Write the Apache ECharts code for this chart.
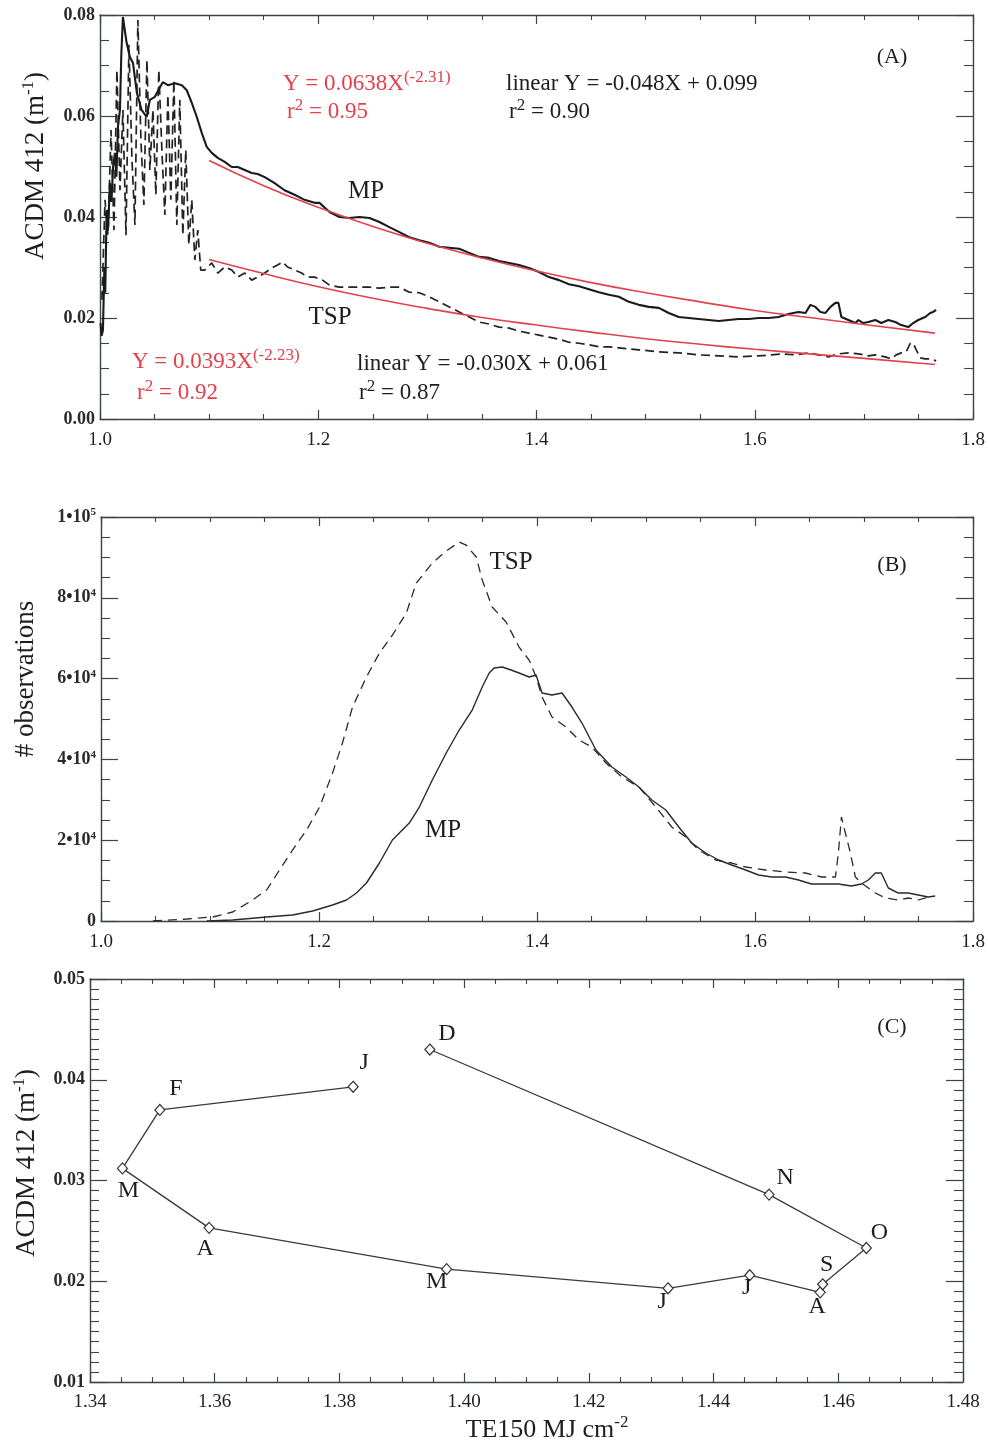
<!DOCTYPE html>
<html><head><meta charset="utf-8">
<script src="https://cdn.jsdelivr.net/npm/echarts@6/dist/echarts.min.js"></script>
<style>html,body{margin:0;padding:0;background:#fff}#c{width:988px;height:1446px}</style>
</head><body><div id="c"></div>
<script>
// ---------- DATA ----------
// Panel A: ACDM 412 vs TE150 (x, y)
const mpA = [[1.0005,0.0190],[1.0015,0.0165],[1.0027,0.0176],[1.0040,0.0300],[1.0048,0.0250],[1.0061,0.0414],[1.0075,0.0380],[1.0091,0.0467],[1.0105,0.0430],[1.0120,0.0500],[1.0137,0.0527],[1.0150,0.0480],[1.0165,0.0580],[1.0183,0.0612],[1.0195,0.0720],[1.0210,0.0796],[1.0244,0.0745],[1.0274,0.0717],[1.0302,0.0705],[1.0338,0.0646],[1.0381,0.0612],[1.0427,0.0598],[1.0457,0.0632],[1.0503,0.0638],[1.0549,0.0657],[1.0576,0.0667],[1.0622,0.0661],[1.0686,0.0665],[1.0750,0.0661],[1.0795,0.0651],[1.0841,0.0626],[1.0887,0.0598],[1.0933,0.0566],[1.0978,0.0539],[1.1024,0.0527],[1.1079,0.0517],[1.1143,0.0509],[1.1207,0.0499],[1.1262,0.0499],[1.1326,0.0493],[1.1390,0.0487],[1.1445,0.0485],[1.1509,0.0479],[1.1600,0.0467],[1.1691,0.0453],[1.1783,0.0444],[1.1874,0.0434],[1.1966,0.0428],[1.2011,0.0428],[1.2103,0.0410],[1.2194,0.0400],[1.2286,0.0398],[1.2377,0.0400],[1.2469,0.0398],[1.2560,0.0390],[1.2651,0.0380],[1.2743,0.0370],[1.2834,0.0360],[1.2926,0.0354],[1.3017,0.0349],[1.3109,0.0341],[1.3200,0.0339],[1.3291,0.0337],[1.3383,0.0329],[1.3474,0.0321],[1.3566,0.0319],[1.3657,0.0313],[1.3749,0.0309],[1.3840,0.0305],[1.3931,0.0299],[1.4023,0.0291],[1.4114,0.0281],[1.4206,0.0275],[1.4297,0.0267],[1.4389,0.0263],[1.4480,0.0257],[1.4571,0.0251],[1.4663,0.0246],[1.4754,0.0242],[1.4846,0.0232],[1.4937,0.0226],[1.5029,0.0222],[1.5120,0.0220],[1.5211,0.0210],[1.5303,0.0202],[1.5394,0.0200],[1.5486,0.0198],[1.5577,0.0196],[1.5669,0.0194],[1.5760,0.0196],[1.5851,0.0198],[1.5943,0.0198],[1.6034,0.0200],[1.6126,0.0200],[1.6217,0.0202],[1.6309,0.0208],[1.6400,0.0212],[1.6464,0.0210],[1.6509,0.0226],[1.6555,0.0222],[1.6601,0.0212],[1.6647,0.0210],[1.6693,0.0222],[1.6738,0.0230],[1.6766,0.0230],[1.6793,0.0202],[1.6857,0.0196],[1.6921,0.0190],[1.6949,0.0196],[1.6994,0.0190],[1.7040,0.0192],[1.7104,0.0196],[1.7159,0.0190],[1.7223,0.0196],[1.7287,0.0192],[1.7341,0.0186],[1.7406,0.0182],[1.7451,0.0190],[1.7497,0.0196],[1.7561,0.0202],[1.7607,0.0210],[1.7634,0.0212],[1.7661,0.0216]];
const tspA = [[1.0018,0.0236],[1.0046,0.0434],[1.0073,0.0364],[1.0101,0.0572],[1.0128,0.0374],[1.0155,0.0691],[1.0183,0.0453],[1.0210,0.0612],[1.0238,0.0364],[1.0265,0.0741],[1.0293,0.0513],[1.0320,0.0384],[1.0347,0.0790],[1.0375,0.0552],[1.0402,0.0424],[1.0430,0.0711],[1.0457,0.0493],[1.0485,0.0612],[1.0512,0.0444],[1.0539,0.0691],[1.0567,0.0533],[1.0594,0.0404],[1.0622,0.0642],[1.0649,0.0434],[1.0677,0.0671],[1.0704,0.0384],[1.0731,0.0632],[1.0759,0.0364],[1.0786,0.0533],[1.0814,0.0345],[1.0841,0.0434],[1.0869,0.0315],[1.0896,0.0374],[1.0923,0.0295],[1.0960,0.0295],[1.1024,0.0309],[1.1079,0.0289],[1.1143,0.0301],[1.1207,0.0295],[1.1262,0.0281],[1.1326,0.0289],[1.1390,0.0275],[1.1445,0.0281],[1.1509,0.0289],[1.1573,0.0299],[1.1627,0.0305],[1.1673,0.0311],[1.1719,0.0301],[1.1783,0.0295],[1.1847,0.0289],[1.1902,0.0281],[1.1966,0.0281],[1.2039,0.0275],[1.2103,0.0265],[1.2194,0.0261],[1.2286,0.0261],[1.2377,0.0261],[1.2469,0.0261],[1.2560,0.0259],[1.2651,0.0261],[1.2743,0.0261],[1.2834,0.0251],[1.2926,0.0250],[1.3017,0.0242],[1.3109,0.0232],[1.3200,0.0222],[1.3291,0.0212],[1.3383,0.0202],[1.3474,0.0192],[1.3566,0.0188],[1.3657,0.0182],[1.3749,0.0180],[1.3840,0.0174],[1.3931,0.0170],[1.4023,0.0166],[1.4114,0.0162],[1.4206,0.0158],[1.4297,0.0152],[1.4389,0.0150],[1.4480,0.0147],[1.4571,0.0143],[1.4663,0.0143],[1.4754,0.0141],[1.4846,0.0139],[1.4937,0.0137],[1.5120,0.0133],[1.5303,0.0131],[1.5486,0.0127],[1.5669,0.0125],[1.5851,0.0123],[1.6034,0.0125],[1.6153,0.0127],[1.6245,0.0129],[1.6373,0.0127],[1.6491,0.0131],[1.6583,0.0127],[1.6674,0.0123],[1.6766,0.0129],[1.6857,0.0131],[1.6949,0.0129],[1.7040,0.0125],[1.7104,0.0127],[1.7195,0.0123],[1.7250,0.0119],[1.7296,0.0127],[1.7341,0.0131],[1.7387,0.0133],[1.7424,0.0150],[1.7451,0.0150],[1.7479,0.0137],[1.7515,0.0121],[1.7561,0.0119],[1.7607,0.0119],[1.7661,0.0115]];
const fitMpA = [[1.10,0.0512],[1.15,0.0462],[1.20,0.0419],[1.25,0.0381],[1.30,0.0348],[1.35,0.0319],[1.40,0.0293],[1.45,0.0270],[1.50,0.0250],[1.55,0.0232],[1.60,0.0215],[1.65,0.0201],[1.70,0.0187],[1.765,0.0170]];
const fitTspA = [[1.10,0.0316],[1.15,0.0288],[1.20,0.0262],[1.25,0.0239],[1.30,0.0219],[1.35,0.0201],[1.40,0.0186],[1.45,0.0172],[1.50,0.0159],[1.55,0.0148],[1.60,0.0138],[1.65,0.0129],[1.70,0.0120],[1.765,0.0108]];

// Panel B: # observations vs TE150
const mpB = [[1.097,0],[1.1208,248],[1.1519,990],[1.1757,1485],[1.1941,2475],[1.2124,3960],[1.2252,5198],[1.2343,6930],[1.2435,9405],[1.2554,14355],[1.2673,20048],[1.2828,24255],[1.2920,28215],[1.3039,34898],[1.3167,41580],[1.3286,47273],[1.3405,52223],[1.3497,57915],[1.3561,61380],[1.3606,62618],[1.3680,62865],[1.3762,62123],[1.3835,61380],[1.3927,60390],[1.3991,60885],[1.4046,56430],[1.4137,55935],[1.4229,56430],[1.4320,52965],[1.4412,49005],[1.4540,42323],[1.4686,38115],[1.4815,35640],[1.4934,33165],[1.5053,29948],[1.5181,27473],[1.5300,23265],[1.5419,19305],[1.5547,16830],[1.5666,15098],[1.5785,13860],[1.5913,12623],[1.6032,11385],[1.6151,10890],[1.6279,10890],[1.6398,10148],[1.6517,9158],[1.6645,9158],[1.6764,9158],[1.6883,8663],[1.6975,9158],[1.7039,10148],[1.7103,11880],[1.7158,11880],[1.7222,8168],[1.7314,6930],[1.7405,6930],[1.7497,6435],[1.7588,5940],[1.7652,6188]];
const tspB = [[1.0476,0],[1.0787,495],[1.1025,990],[1.1208,2228],[1.1391,5198],[1.1519,7673],[1.1638,12623],[1.1757,17573],[1.1886,22523],[1.2005,28215],[1.2124,36630],[1.2215,44055],[1.2307,52965],[1.2435,60390],[1.2554,66330],[1.2673,70785],[1.2801,76230],[1.2892,83655],[1.3039,88605],[1.3167,91575],[1.3286,93803],[1.3350,93060],[1.3442,90090],[1.3497,84398],[1.3588,77715],[1.3716,74003],[1.3835,67815],[1.3927,64598],[1.3991,60390],[1.4046,55440],[1.4137,50490],[1.4265,48015],[1.4384,44798],[1.4503,43065],[1.4632,39105],[1.4778,35640],[1.4934,33165],[1.5089,28215],[1.5236,23265],[1.5364,20790],[1.5483,17573],[1.5638,15098],[1.5785,14355],[1.5913,13365],[1.6096,12623],[1.6279,12128],[1.6462,11880],[1.6609,10890],[1.6737,10890],[1.6764,16830],[1.6792,25740],[1.6828,21780],[1.6874,16830],[1.6920,10890],[1.6975,9405],[1.7039,8168],[1.7103,6930],[1.7194,5693],[1.7314,5198],[1.7405,5693],[1.7497,5198],[1.7588,5940]];

// Panel C: monthly means
const months = ['J','F','M','A','M','J','J','A','S','O','N','D'];
const te150 = [1.3822,1.3512,1.3452,1.3591,1.3972,1.4327,1.4458,1.4571,1.4575,1.4645,1.4489,1.3945];
const acdmC = [0.0393,0.0370,0.0312,0.0253,0.0212,0.0193,0.0206,0.0189,0.0197,0.0233,0.0286,0.0430];

// tick label formats
const fmt1 = v => v.toFixed(1);
const fmt2 = v => v.toFixed(2);
const fmtObs = v => v === 0 ? '0' : (v >= 100000 ? '{a|1\u202210}{s|5}' : '{a|' + Math.round(v / 10000) + '\u202210}{s|4}');

// ---------- LAYOUT / STYLE ----------
const FONT = '"Liberation Serif", "DejaVu Serif", serif';
const AX = '#3b4545';
const TXT = '#1e1e1e';
const RED = '#e2414a';
const labelOffsetsC = [[11,-24],[16,-21],[6,22],[-4,21],[-10,13],[-6,13],[-3,12],[-3,14],[4,-20],[13,-15],[16,-17],[17,-16]];

function axisBase(grid, min, max, interval, majorLen, minorLen, minorSplit) {
  return {
    type: 'value', gridIndex: grid, min, max, interval, scale: false,
    splitLine: {show: false}, minorSplitLine: {show: false},
    axisLine: {show: true, onZero: false, lineStyle: {color: AX, width: 1.4}},
    axisTick: {show: true, inside: true, length: majorLen, lineStyle: {color: AX, width: 1.2}},
    minorTick: {show: true, splitNumber: minorSplit, length: minorLen, lineStyle: {color: AX, width: 1.1}}
  };
}
function xPair(grid, min, max, interval, fmt, margin) {
  return [
    Object.assign(axisBase(grid, min, max, interval, 9, 5, 4), {position: 'bottom',
      axisLabel: {show: true, margin, formatter: fmt, fontFamily: FONT, fontSize: 19, color: TXT}}),
    Object.assign(axisBase(grid, min, max, interval, 9, 5, 4), {position: 'top', axisLabel: {show: false}})
  ];
}
function yPair(grid, min, max, interval, fmt, minorSplit, labelExtra) {
  return [
    Object.assign(axisBase(grid, min, max, interval, 17, 9, minorSplit), {position: 'left',
      axisLabel: Object.assign({show: true, margin: 5, formatter: fmt, fontFamily: FONT, fontSize: 18, fontWeight: 'bold', color: '#2a2a2a'}, labelExtra || {})}),
    Object.assign(axisBase(grid, min, max, interval, 17, 9, minorSplit), {position: 'right', axisLabel: {show: false}})
  ];
}

function txt(x, y, text, size, color, align, rich, rotation) {
  const el = {type: 'text', x, y, silent: true, style: {
    text, fill: color, font: size + 'px ' + FONT, fontSize: size, fontFamily: FONT,
    align: align || 'left', verticalAlign: 'middle'}};
  if (rich) el.style.rich = rich;
  if (rotation) el.rotation = rotation;
  return el;
}
function supRich(size, supSize, color, lh) {
  return {
    m: {fontSize: size, fontFamily: FONT, fill: color, lineHeight: lh},
    s: {fontSize: supSize, fontFamily: FONT, fill: color, verticalAlign: 'top', lineHeight: supSize}
  };
}

const chart = echarts.init(document.getElementById('c'), null, {renderer: 'canvas'});
const xs = [].concat(xPair(0, 1.0, 1.8, 0.2, fmt1, 12), xPair(1, 1.0, 1.8, 0.2, fmt1, 12), xPair(2, 1.34, 1.48, 0.02, fmt2, 11));
const ys = [].concat(
  yPair(0, 0, 0.08, 0.02, fmt2, 4),
  yPair(1, 0, 100000, 20000, fmtObs, 4, {rich: {
    a: {fontSize: 18, fontFamily: FONT, fontWeight: 'bold', color: '#2a2a2a', lineHeight: 20},
    s: {fontSize: 11, fontFamily: FONT, fontWeight: 'bold', color: '#2a2a2a', verticalAlign: 'top', lineHeight: 11}}}),
  yPair(2, 0.01, 0.05, 0.01, fmt2, 10)
);

const eqSize = 23, eqSup = 17, eqLH = 30;
const option = {
  animation: false,
  backgroundColor: '#ffffff',
  grid: [
    {left: 100, top: 15, width: 875, height: 404},
    {left: 101, top: 517, width: 874, height: 404},
    {left: 90, top: 979, width: 873, height: 403}
  ],
  xAxis: xs,
  yAxis: ys,
  series: [
    {type: 'line', xAxisIndex: 0, yAxisIndex: 0, data: tspA, showSymbol: false, silent: true,
      lineStyle: {color: '#222', width: 1.7, type: [9, 5]}},
    {type: 'line', xAxisIndex: 0, yAxisIndex: 0, data: mpA, showSymbol: false, silent: true,
      lineStyle: {color: '#1a1a1a', width: 2.1}},
    {type: 'line', xAxisIndex: 0, yAxisIndex: 0, data: fitMpA, showSymbol: false, smooth: true, silent: true,
      lineStyle: {color: RED, width: 1.6}},
    {type: 'line', xAxisIndex: 0, yAxisIndex: 0, data: fitTspA, showSymbol: false, smooth: true, silent: true,
      lineStyle: {color: RED, width: 1.6}},
    {type: 'line', xAxisIndex: 2, yAxisIndex: 2, data: tspB, showSymbol: false, silent: true,
      lineStyle: {color: '#2a2a2a', width: 1.3, type: [9, 6]}},
    {type: 'line', xAxisIndex: 2, yAxisIndex: 2, data: mpB, showSymbol: false, silent: true,
      lineStyle: {color: '#2a2a2a', width: 1.4}},
    {type: 'line', xAxisIndex: 4, yAxisIndex: 4, silent: true,
      data: months.map((m, i) => ({name: m, value: [te150[i], acdmC[i]],
        label: {offset: labelOffsetsC[i]}})),
      symbol: 'diamond', symbolSize: [10, 11], showSymbol: true,
      itemStyle: {color: '#ffffff', borderColor: '#333', borderWidth: 1.2},
      lineStyle: {color: '#3a3a3a', width: 1.3},
      label: {show: true, position: 'inside', formatter: '{b}', fontFamily: FONT, fontSize: 24, color: TXT}}
  ],
  graphic: [
    // axis titles
    txt(36, 166, '{m|ACDM 412 (m}{s|-1}{m|)}', 27, TXT, 'center', supRich(27, 17, TXT, 32), Math.PI / 2),
    txt(26, 679, '# observations', 27, TXT, 'center', null, Math.PI / 2),
    txt(27, 1163, '{m|ACDM 412 (m}{s|-1}{m|)}', 27, TXT, 'center', supRich(27, 17, TXT, 32), Math.PI / 2),
    txt(547, 1430, '{m|TE150 MJ cm}{s|-2}', 26, TXT, 'center', supRich(26, 17, TXT, 32)),
    // panel letters
    txt(892, 57, '(A)', 22, TXT, 'center'),
    txt(892, 565, '(B)', 22, TXT, 'center'),
    txt(892, 1027, '(C)', 22, TXT, 'center'),
    // panel A annotations
    txt(283, 84, '{m|Y = 0.0638X}{s|(-2.31)}', eqSize, RED, 'left', supRich(eqSize, eqSup, RED, eqLH)),
    txt(287, 112, '{m|r}{s|2}{m| = 0.95}', eqSize, RED, 'left', supRich(eqSize, eqSup, RED, eqLH)),
    txt(506, 84, 'linear Y = -0.048X + 0.099', eqSize, TXT, 'left'),
    txt(509, 112, '{m|r}{s|2}{m| = 0.90}', eqSize, TXT, 'left', supRich(eqSize, eqSup, TXT, eqLH)),
    txt(132, 362, '{m|Y = 0.0393X}{s|(-2.23)}', eqSize, RED, 'left', supRich(eqSize, eqSup, RED, eqLH)),
    txt(137, 393, '{m|r}{s|2}{m| = 0.92}', eqSize, RED, 'left', supRich(eqSize, eqSup, RED, eqLH)),
    txt(357, 364, 'linear Y = -0.030X + 0.061', eqSize, TXT, 'left'),
    txt(359, 393, '{m|r}{s|2}{m| = 0.87}', eqSize, TXT, 'left', supRich(eqSize, eqSup, TXT, eqLH)),
    txt(366, 191, 'MP', 25, TXT, 'center'),
    txt(330, 317, 'TSP', 25, TXT, 'center'),
    // panel B annotations
    txt(511, 562, 'TSP', 25, TXT, 'center'),
    txt(443, 830, 'MP', 25, TXT, 'center')
  ]
};
chart.setOption(option);
</script></body></html>
